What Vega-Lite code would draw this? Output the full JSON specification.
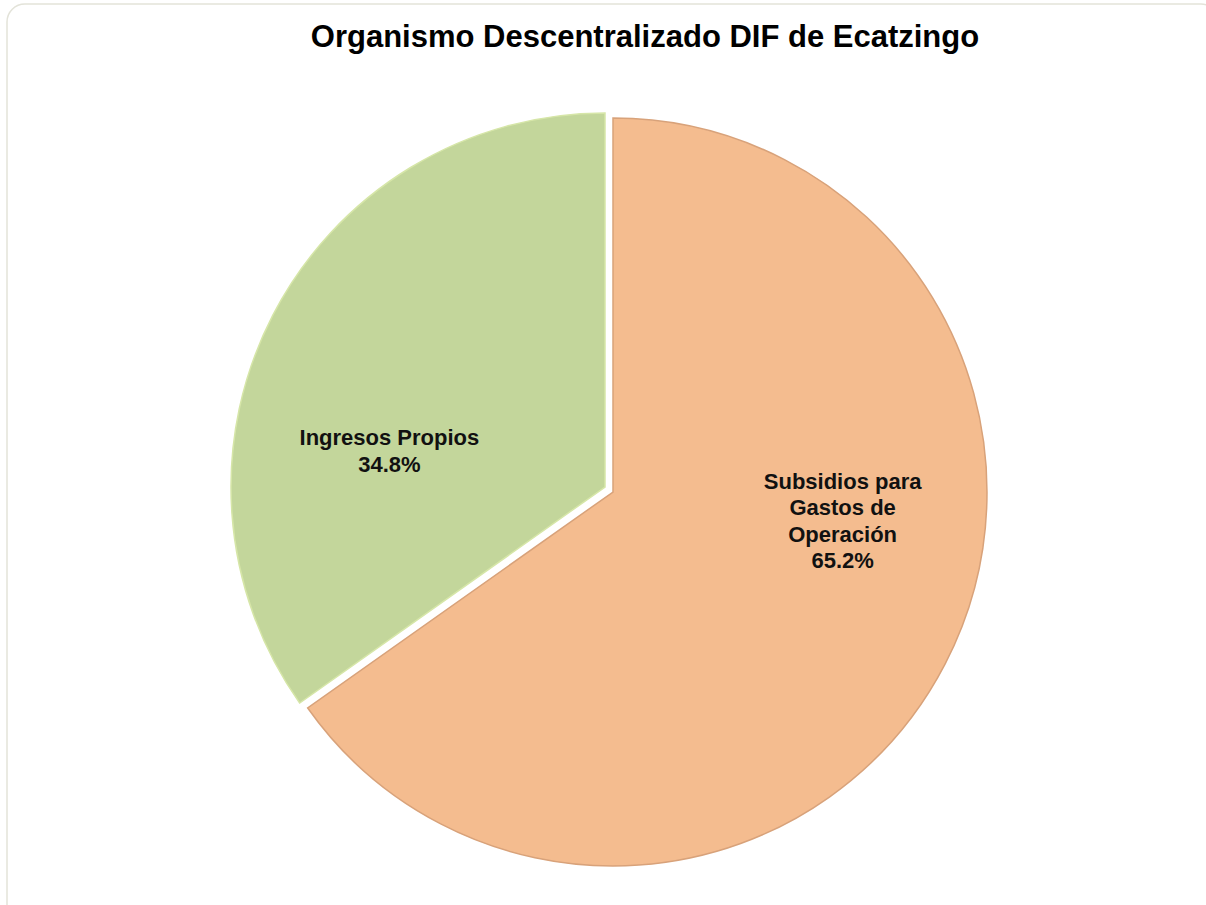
{
  "$schema": "https://vega.github.io/schema/vega-lite/v6.json",
  "autosize": "none",
  "width": 1212,
  "height": 976,
  "padding": {"left": 7, "top": 4, "right": 0, "bottom": 0},
  "background": "white",
  "view": {"stroke": "#e3e3d9", "strokeWidth": 1.5, "cornerRadius": 18, "fill": "white"},
  "config": {
    "font": "Liberation Sans"
  },
  "title": {
    "text": "Organismo Descentralizado DIF de Ecatzingo",
    "font": "Liberation Sans",
    "fontSize": 31,
    "fontWeight": "bold",
    "color": "#000000",
    "anchor": "middle",
    "offset": -50,
    "dx": 32
  },
  "data": {
    "values": [
      {"categoria": "Subsidios para Gastos de Operación", "etiqueta": "Subsidios para\nGastos de\nOperación\n65.2%", "pct": 65.2, "orden": 1},
      {"categoria": "Ingresos Propios", "etiqueta": "Ingresos Propios\n34.8%", "pct": 34.8, "orden": 2}
    ]
  },
  "encoding": {
    "theta": {"field": "pct", "type": "quantitative", "stack": true},
    "order": {"field": "orden", "type": "quantitative"}
  },
  "layer": [
    {
      "mark": {"type": "arc", "outerRadius": 374, "stroke": "#d8a27a", "strokeWidth": 1.5},
      "encoding": {
        "color": {"field": "categoria", "type": "nominal", "scale": {"domain": ["Subsidios para Gastos de Operación", "Ingresos Propios"], "range": ["#F4BC8F", "#C3D69B"]}, "legend": null},
        "opacity": {"condition": {"test": "datum.categoria === 'Ingresos Propios'", "value": 0}, "value": 1}
      }
    },
    {
      "mark": {"type": "arc", "outerRadius": 374, "xOffset": -8, "yOffset": -5, "stroke": "#d6e6a8", "strokeWidth": 1.5},
      "encoding": {
        "color": {"field": "categoria", "type": "nominal", "legend": null},
        "opacity": {"condition": {"test": "datum.categoria === 'Ingresos Propios'", "value": 1}, "value": 0}
      }
    },
    {
      "mark": {"type": "text", "radius": 200, "fontSize": 22, "fontWeight": "bold", "lineBreak": "\n", "lineHeight": 26.5, "color": "#111111", "align": "center", "baseline": "middle", "dx": 52, "dy": -102},
      "encoding": {
        "text": {"condition": {"test": "datum.categoria === 'Subsidios para Gastos de Operación'", "field": "etiqueta"}, "value": ""}
      }
    },
    {
      "mark": {"type": "text", "radius": 200, "fontSize": 22, "fontWeight": "bold", "lineBreak": "\n", "lineHeight": 27, "color": "#111111", "align": "center", "baseline": "middle", "dx": -46, "dy": 38},
      "encoding": {
        "text": {"condition": {"test": "datum.categoria === 'Ingresos Propios'", "field": "etiqueta"}, "value": ""}
      }
    }
  ]
}
